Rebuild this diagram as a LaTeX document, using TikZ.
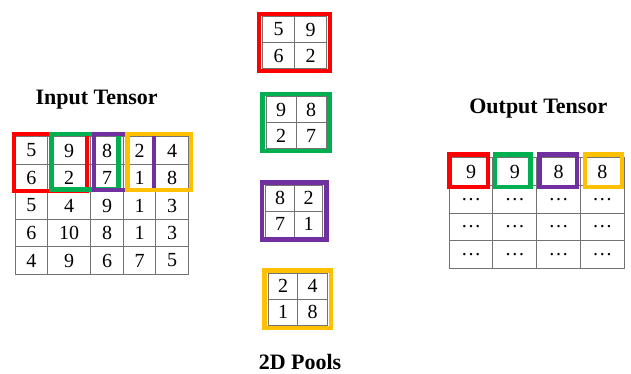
\documentclass[tikz,border=0pt]{standalone}
\usepackage{fontspec}
\setmainfont{Liberation Serif}
\definecolor{poolred}{RGB}{255,0,0}
\definecolor{poolgreen}{RGB}{0,176,80}
\definecolor{poolpurple}{RGB}{112,48,160}
\definecolor{poolorange}{RGB}{255,192,0}
\tikzset{
  cell/.style={draw=black!55, line width=0.8pt, inner sep=0pt, font=\fontsize{20}{22}\selectfont},
  hl/.style={line width=4.5pt},
  title/.style={font=\fontsize{22}{24}\selectfont\bfseries},
}

\begin{document}
\begin{tikzpicture}[x=1pt,y=-1pt]
\useasboundingbox (0,0) rectangle (631,373);
\def\incx{{31.3,69.2,107,139.5,172}}
\def\incw{{32.7,43,32.6,32.4,32.6}}
%titles
\node[title] (intitle) at (96.7,100) {Input Tensor};
\node[title] (outtitle) at (538.3,108.3) {Output Tensor};
\node[title] (pooltitle) at (300,361.7) {2D Pools};
%input tensor
\foreach \vals [count=\r] in {{5,9,8,2,4},{6,2,7,1,8},{5,4,9,1,3},{6,10,8,1,3},{4,9,6,7,5}}
  \foreach \v [count=\c] in \vals {
    \pgfmathsetmacro\cx{\incx[\c-1]}
    \pgfmathsetmacro\cw{\incw[\c-1]}
    \node[cell, minimum width=\cw pt, minimum height=27.5pt] (in-\r-\c) at (\cx, 123+27.5*\r) {\v};
  }
%windows on input
\draw[hl, poolred] (14,134) rectangle (87,191);
\draw[hl, poolgreen] (51.5,134) rectangle (118.5,189.5);
\draw[hl, poolpurple] (94,134) rectangle (153.8,190);
\draw[hl, poolorange] (127.3,134) rectangle (191,190);
%pools
\foreach \nm/\cx/\cy/\w/\clr/\a/\b/\c/\d in {red/294.5/42.5/64/poolred/5/9/6/2, green/296/122.5/60/poolgreen/9/8/2/7, purple/294.3/211/57/poolpurple/8/2/7/1, orange/297.8/299.3/59/poolorange/2/4/1/8} {
  \pgfmathsetmacro\hw{\w/2}
  \node[cell, minimum width=\hw pt, minimum height=26pt] (\nm-a) at (\cx-\w/4, \cy-13) {\a};
  \node[cell, minimum width=\hw pt, minimum height=26pt] (\nm-b) at (\cx+\w/4, \cy-13) {\b};
  \node[cell, minimum width=\hw pt, minimum height=26pt] (\nm-c) at (\cx-\w/4, \cy+13) {\c};
  \node[cell, minimum width=\hw pt, minimum height=26pt] (\nm-d) at (\cx+\w/4, \cy+13) {\d};
  \draw[hl, \clr] (\cx-\w/2-3.7, \cy-28.7) rectangle (\cx+\w/2+3.7, \cy+28.7);
}
%output tensor
\foreach \vals [count=\r] in {{9,9,8,8},{\dots,\dots,\dots,\dots},{\dots,\dots,\dots,\dots},{\dots,\dots,\dots,\dots}}
  \foreach \v [count=\c] in \vals
    \node[cell, minimum width=43.75pt, minimum height=27.65pt] (out-\r-\c) at (471+43.75*\c-43.75, 143.85+27.65*\r) {\v};
%windows on output
\draw[hl, poolred] (449.5,154.5) rectangle (487.8,186.8);
\draw[hl, poolgreen] (495,154.5) rectangle (530.5,186.8);
\draw[hl, poolpurple] (539.5,154.5) rectangle (576.8,186.8);
\draw[hl, poolorange] (585,154.5) rectangle (622,186.8);
\end{tikzpicture}
\end{document}
